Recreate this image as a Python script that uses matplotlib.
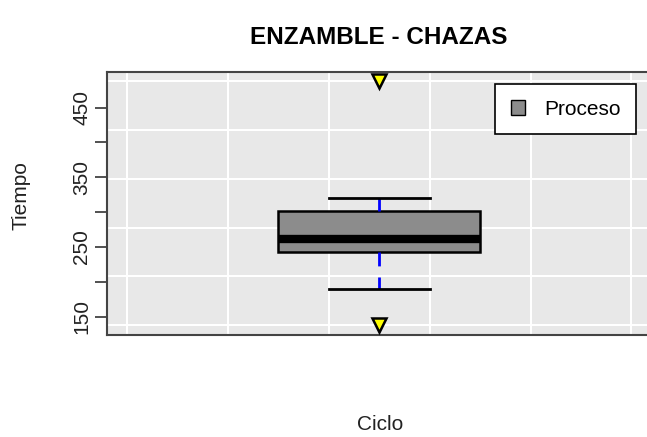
import matplotlib
matplotlib.use("Agg")
import matplotlib.pyplot as plt
from matplotlib.patches import Patch
import numpy as np

plt.rcParams['font.family'] = ['Liberation Sans', 'DejaVu Sans']

# summary of the "Proceso" box
q1, med, q3 = 243, 262, 301
whis_lo, whis_hi = 190, 320
outliers = [137.5, 487.5]
y_ticks = [150, 200, 250, 300, 350, 400, 450]
y_labels = ['150', '', '250', '', '350', '', '450']

fig = plt.figure(figsize=(6.47, 4.37), dpi=100)
W, H = 647, 437
ax = fig.add_axes([107 / W, (H - 335) / H, (651.6 - 107) / W, (335 - 71.7) / H])
ax.set_facecolor('#e8e8e8')

lo, hi = min(outliers), max(outliers)
pad = 0.04 * (hi - lo)
ax.set_ylim(lo - pad, hi + pad)
ax.set_xlim(0.46, 1.54)

# background grid like the original
for g in np.linspace(lo, hi, 6):
    ax.axhline(g, color='white', lw=1.5, zorder=0)
for g in np.linspace(0.5, 1.5, 6):
    ax.axvline(g, color='white', lw=1.5, zorder=0)

stats = [dict(med=med, q1=q1, q3=q3, whislo=whis_lo, whishi=whis_hi, fliers=outliers)]
ax.bxp(stats, positions=[1], widths=0.4, patch_artist=True, showfliers=True,
       boxprops=dict(facecolor='#8c8c8c', edgecolor='black', lw=1.8),
       medianprops=dict(color='black', lw=6, solid_capstyle='butt'),
       whiskerprops=dict(color='blue', lw=2, linestyle=(0, (5, 4))),
       capprops=dict(color='black', lw=2),
       capwidths=0.2,
       flierprops=dict(marker='v', markerfacecolor='yellow', markeredgecolor='black',
                       markeredgewidth=1.8, markersize=10),
       zorder=3)

fs = 15
ax.set_xticks([])
ax.set_yticks(y_ticks)
ax.set_yticklabels(y_labels, rotation=90, va='center', fontsize=fs, color='#222222')
ax.tick_params(axis='y', length=8.5, width=1.2, color='#333333', pad=3)
for s in ax.spines.values():
    s.set_color('#444444')
    s.set_linewidth(1.5)

ax.set_ylabel('Tiempo', fontsize=fs, color='#222222')
ax.yaxis.set_label_coords(-(107 - 31) / (651.6 - 107), 0.53)
fig.text(380 / W, 1 - 425 / H, 'Ciclo', fontsize=fs, color='#222222', ha='center', va='center')
fig.text(379 / W, 1 - 38 / H, 'ENZAMBLE - CHAZAS', fontsize=17.5, fontweight='bold',
         ha='center', va='center')

leg = ax.legend(handles=[Patch(facecolor='#8c8c8c', edgecolor='black', lw=1, label='Proceso')],
                loc='upper left', bbox_to_anchor=((495 - 107) / (651.6 - 107), 1 - (84 - 71.7) / (335 - 71.7)),
                fontsize=fs, frameon=True, fancybox=False, borderpad=0.75,
                handlelength=0.7, handleheight=0.7, handletextpad=0.9, borderaxespad=0)
leg.get_frame().set_edgecolor('black')
leg.get_frame().set_linewidth(1.2)
leg.get_frame().set_alpha(1)

fig.savefig('out.png', dpi=100)
